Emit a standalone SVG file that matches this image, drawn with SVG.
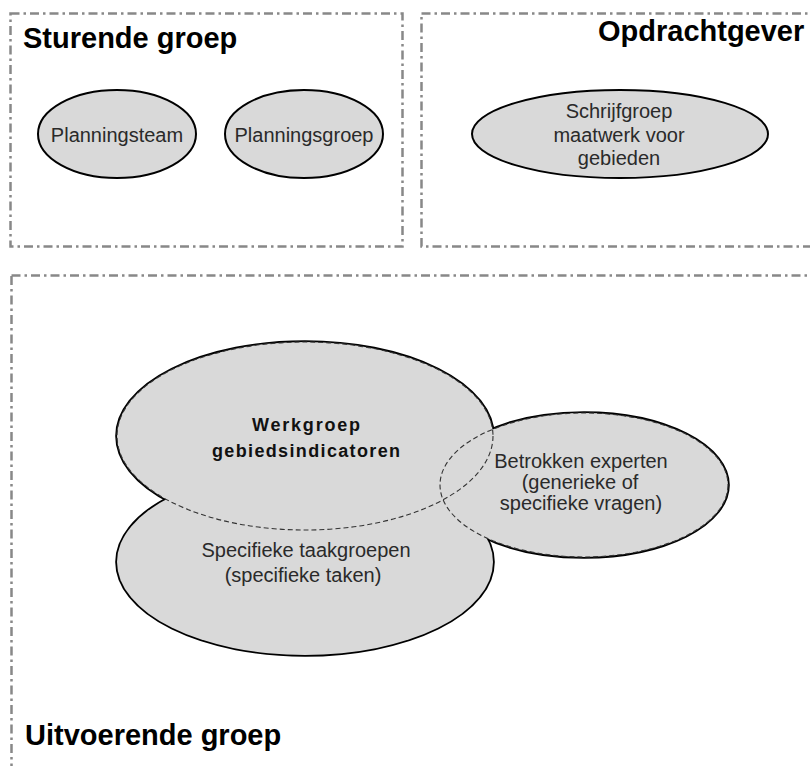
<svg xmlns="http://www.w3.org/2000/svg" width="810" height="766" viewBox="0 0 810 766">
<style>
.box{fill:none;stroke:#888;stroke-width:2.5;stroke-dasharray:9 4 2.5 4}
.title{font-family:"Liberation Sans",Arial,sans-serif;font-weight:bold;font-size:29px;fill:#000}
.lbl{font-family:"Liberation Sans",Arial,sans-serif;font-size:20px;fill:#2a2a2a;text-anchor:middle}
.blbl{font-family:"Liberation Sans",Arial,sans-serif;font-size:18px;font-weight:bold;fill:#111;text-anchor:middle}
.node{fill:#d9d9d9;stroke:#000;stroke-width:2}
.big{fill:#d9d9d9;stroke:#000;stroke-width:3.6}
.fill{fill:#d9d9d9;stroke:none}
.hid{fill:none;stroke:#333;stroke-width:1.1;stroke-dasharray:5 3}
</style>
<rect width="810" height="766" fill="#fff"/>
<g id="sturende-groep">
  <rect class="box" x="10.5" y="13.5" width="392" height="233"/>
  <text class="title" x="23" y="48">Sturende groep</text>
</g>
<g id="opdrachtgever">
  <rect class="box" x="421.5" y="13.5" width="420" height="233"/>
  <text class="title" x="598" y="41">Opdrachtgever</text>
</g>
<g id="uitvoerende-groep">
  <rect class="box" x="11.5" y="275.5" width="840" height="520"/>
  <text class="title" x="25" y="745">Uitvoerende groep</text>
</g>
<g id="planningsteam">
  <ellipse class="node" cx="117" cy="134" rx="79" ry="44"/>
  <text class="lbl" x="117" y="142">Planningsteam</text>
</g>
<g id="planningsgroep">
  <ellipse class="node" cx="304" cy="134" rx="79" ry="44"/>
  <text class="lbl" x="304" y="142">Planningsgroep</text>
</g>
<g id="schrijfgroep">
  <ellipse class="node" cx="620" cy="134" rx="148" ry="44"/>
  <text class="lbl" x="619" y="118">Schrijfgroep</text>
  <text class="lbl" x="619" y="142">maatwerk voor</text>
  <text class="lbl" x="619" y="165">gebieden</text>
</g>
<g id="overlap-outlines">
  <ellipse class="big" cx="305" cy="562" rx="188" ry="93"/>
  <ellipse class="big" cx="584" cy="485" rx="144" ry="72"/>
  <ellipse class="big" cx="305" cy="436" rx="188" ry="94"/>
</g>
<g id="specifieke-taakgroepen">
  <ellipse class="fill" cx="305" cy="562" rx="188" ry="93"/>
</g>
<g id="betrokken-experten">
  <ellipse class="fill" cx="584" cy="485" rx="144" ry="72"/>
</g>
<g id="werkgroep">
  <ellipse class="fill" cx="305" cy="436" rx="188" ry="94"/>
</g>
<g id="hidden-edges">
  <ellipse class="hid" cx="584" cy="485" rx="144" ry="72"/>
  <ellipse class="hid" cx="305" cy="436" rx="188" ry="94"/>
</g>
<g id="labels">
  <text class="blbl" x="306" y="431" textLength="108" lengthAdjust="spacing">Werkgroep</text>
  <text class="blbl" x="306" y="457" textLength="188" lengthAdjust="spacing">gebiedsindicatoren</text>
  <text class="lbl" x="306" y="557">Specifieke taakgroepen</text>
  <text class="lbl" x="303" y="582">(specifieke taken)</text>
  <text class="lbl" x="581" y="468">Betrokken experten</text>
  <text class="lbl" x="580" y="489">(generieke of</text>
  <text class="lbl" x="581" y="510">specifieke vragen)</text>
</g>
<g id="connectors"/>
</svg>
